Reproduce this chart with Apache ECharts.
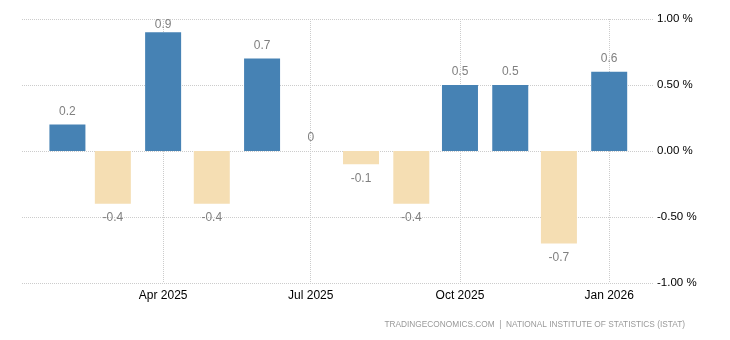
<!DOCTYPE html>
<html>
<head>
<meta charset="utf-8">
<script src="https://cdn.jsdelivr.net/npm/echarts@6/dist/echarts.min.js"></script>
<style>
html,body{margin:0;padding:0;background:#fff;}
#chart{width:730px;height:340px;}
</style>
</head>
<body>
<div id="chart"></div>
<script>
// Data
var months = ['2025-02-01','2025-03-01','2025-04-01','2025-05-01','2025-06-01','2025-07-01',
              '2025-08-01','2025-09-01','2025-10-01','2025-11-01','2025-12-01','2026-01-01'];
var values = [0.2, -0.4, 0.9, -0.4, 0.7, 0, -0.1, -0.4, 0.5, 0.5, -0.7, 0.6];
var xTickDates = ['2025-04-01','2025-07-01','2025-10-01','2026-01-01'];
var monthNames = ['Jan','Feb','Mar','Apr','May','Jun','Jul','Aug','Sep','Oct','Nov','Dec'];
var yTicks = [-1, -0.5, 0, 0.5, 1];
var xRange = ['2025-01-04', '2026-01-28'];
var sourceText = 'TRADINGECONOMICS.COM  |  NATIONAL INSTITUTE OF STATISTICS (ISTAT)';

var chart = echarts.init(document.getElementById('chart'), null, {renderer: 'canvas'});
var font = 'Arial, "Liberation Sans", sans-serif';
var gridTop = 19;

var seriesData = months.map(function (m, i) {
  var d = [Date.parse(m), values[i]];
  if (values[i] < 0) {
    return {value: d, label: {position: 'bottom', distance: 8}};
  }
  return {value: d};
});
var tickValues = xTickDates.map(function (d) { return Date.parse(d); });

chart.setOption({
  animation: false,
  textStyle: {fontFamily: font},
  title: {
    text: sourceText,
    right: 45,
    top: 321,
    padding: 0,
    textStyle: {fontSize: 8.3, color: '#999', fontWeight: 'normal', fontFamily: font}
  },
  grid: {left: 22, right: 77, top: gridTop, bottom: 57},
  xAxis: {
    type: 'value',
    min: Date.parse(xRange[0]),
    max: Date.parse(xRange[1]),
    axisLine: {show: false},
    axisTick: {show: true, length: 4, customValues: tickValues, lineStyle: {color: '#ccc', type: 'dotted'}},
    splitLine: {show: true, lineStyle: {color: '#ccc', type: 'dotted'}},
    axisLabel: {
      color: '#000',
      fontSize: 12,
      margin: 7,
      fontFamily: font,
      customValues: tickValues,
      showMinLabel: true,
      showMaxLabel: true,
      formatter: function (v) {
        var d = new Date(v);
        return monthNames[d.getUTCMonth()] + ' ' + d.getUTCFullYear();
      }
    }
  },
  yAxis: {
    type: 'value',
    position: 'right',
    min: yTicks[0],
    max: yTicks[yTicks.length - 1],
    interval: 0.5,
    axisLine: {show: false},
    axisTick: {show: false},
    splitLine: {show: true, lineStyle: {color: '#ccc', type: 'dotted'}},
    axisLabel: {
      color: '#000',
      fontSize: 11.5,
      margin: 4,
      fontFamily: font,
      formatter: function (v) { return v.toFixed(2) + ' %'; }
    }
  },
  series: [{
    type: 'bar',
    data: seriesData,
    barWidth: 36,
    itemStyle: {
      color: function (p) { return p.value[1] >= 0 ? '#4682B4' : '#F5DEB3'; }
    },
    label: {
      show: true,
      color: '#808080',
      fontSize: 12,
      fontFamily: font,
      position: 'top',
      distance: 7,
      formatter: function (p) { return String(p.value[1]); }
    },
    labelLayout: function (params) {
      if (params.labelRect.y < gridTop) {
        return {dy: gridTop - params.labelRect.y};
      }
      return {};
    }
  }]
});
</script>
</body>
</html>
